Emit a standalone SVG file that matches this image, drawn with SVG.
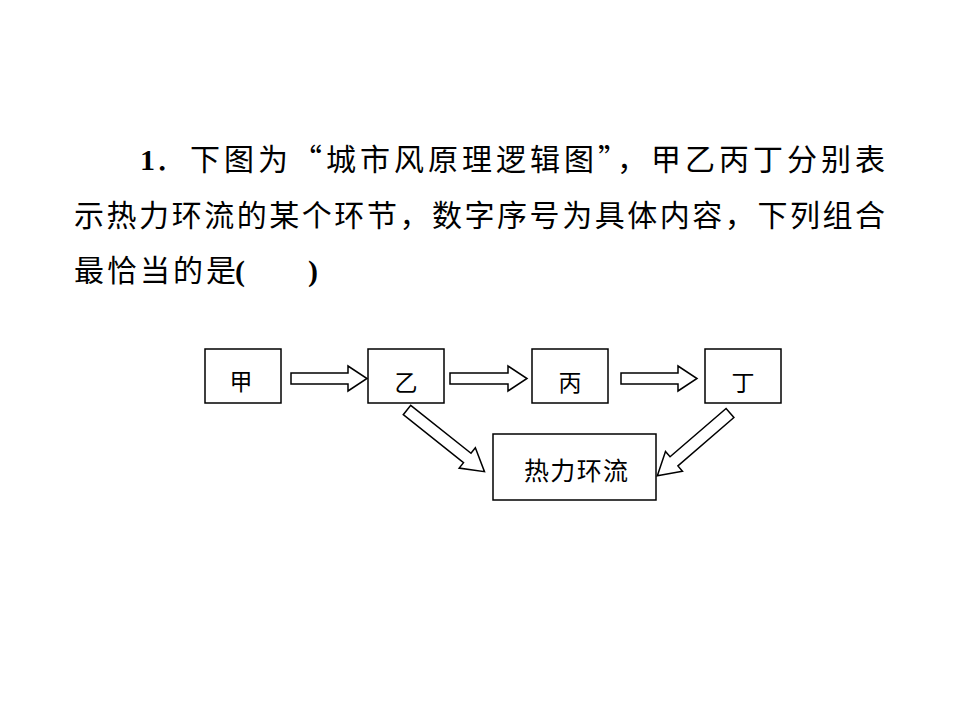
<svg xmlns="http://www.w3.org/2000/svg" width="960" height="720" viewBox="0 0 960 720">
<style>
.t{font-family:"Liberation Serif","Noto Sans CJK SC",serif;font-size:30px;fill:#000}
.c{font-family:"Noto Sans CJK SC",sans-serif;font-size:30px;fill:#000}
.box{fill:#fff;stroke:#000;stroke-width:1.5}
.lbl{font-family:"Noto Sans CJK SC",sans-serif;font-size:23px;fill:#000;text-anchor:middle}
.arr{fill:#fff;stroke:#000;stroke-width:1.5;stroke-linejoin:miter}
</style>
<rect width="960" height="720" fill="#fff"/>
<g id="question">
<text class="t" x="140" y="170" font-weight="bold">1</text>
<text class="t" x="155" y="170">．</text>
<text class="c" x="190" y="170" textLength="695" lengthAdjust="spacing">下图为“城市风原理逻辑图”，甲乙丙丁分别表</text>
<text class="c" x="74" y="226" textLength="811" lengthAdjust="spacing">示热力环流的某个环节，数字序号为具体内容，下列组合</text>
<text class="c" x="74" y="281" textLength="162" lengthAdjust="spacing">最恰当的是</text>
<text class="t" x="235" y="281" font-weight="bold">(</text>
<text class="t" x="308" y="281" font-weight="bold">)</text>
</g>
<g id="connectors">
<path class="arr" transform="translate(291,378.5)" d="M0,-5.5 H57 V-12.5 L76,0 L57,12.5 V5.5 H0 Z"/>
<path class="arr" transform="translate(450,378.5)" d="M0,-5.5 H58 V-12.5 L77,0 L58,12.5 V5.5 H0 Z"/>
<path class="arr" transform="translate(621,378.5)" d="M0,-5.5 H57 V-12.5 L76,0 L57,12.5 V5.5 H0 Z"/>
<path class="arr" transform="translate(407,410) rotate(38.5)" d="M0,-6 H77 V-13 L99,0 L77,13 V6 H0 Z"/>
<path class="arr" transform="translate(730,413) rotate(139.2)" d="M0,-6 H74 V-13 L96,0 L74,13 V6 H0 Z"/>
</g>
<g id="jia"><rect class="box" x="205" y="349" width="76" height="54"/><text class="lbl" x="241" y="390">甲</text></g>
<g id="yi"><rect class="box" x="368" y="349" width="76" height="54"/><text class="lbl" x="406" y="391">乙</text></g>
<g id="bing"><rect class="box" x="532" y="349" width="76" height="54"/><text class="lbl" x="570" y="391">丙</text></g>
<g id="ding"><rect class="box" x="705" y="349" width="76" height="54"/><text class="lbl" x="743" y="391">丁</text></g>
<g id="reli"><rect class="box" x="493" y="434" width="163" height="66" stroke-width="2"/><text x="524" y="480" font-family="'Noto Sans CJK SC',sans-serif" font-size="25" textLength="104" lengthAdjust="spacing">热力环流</text></g>
</svg>
